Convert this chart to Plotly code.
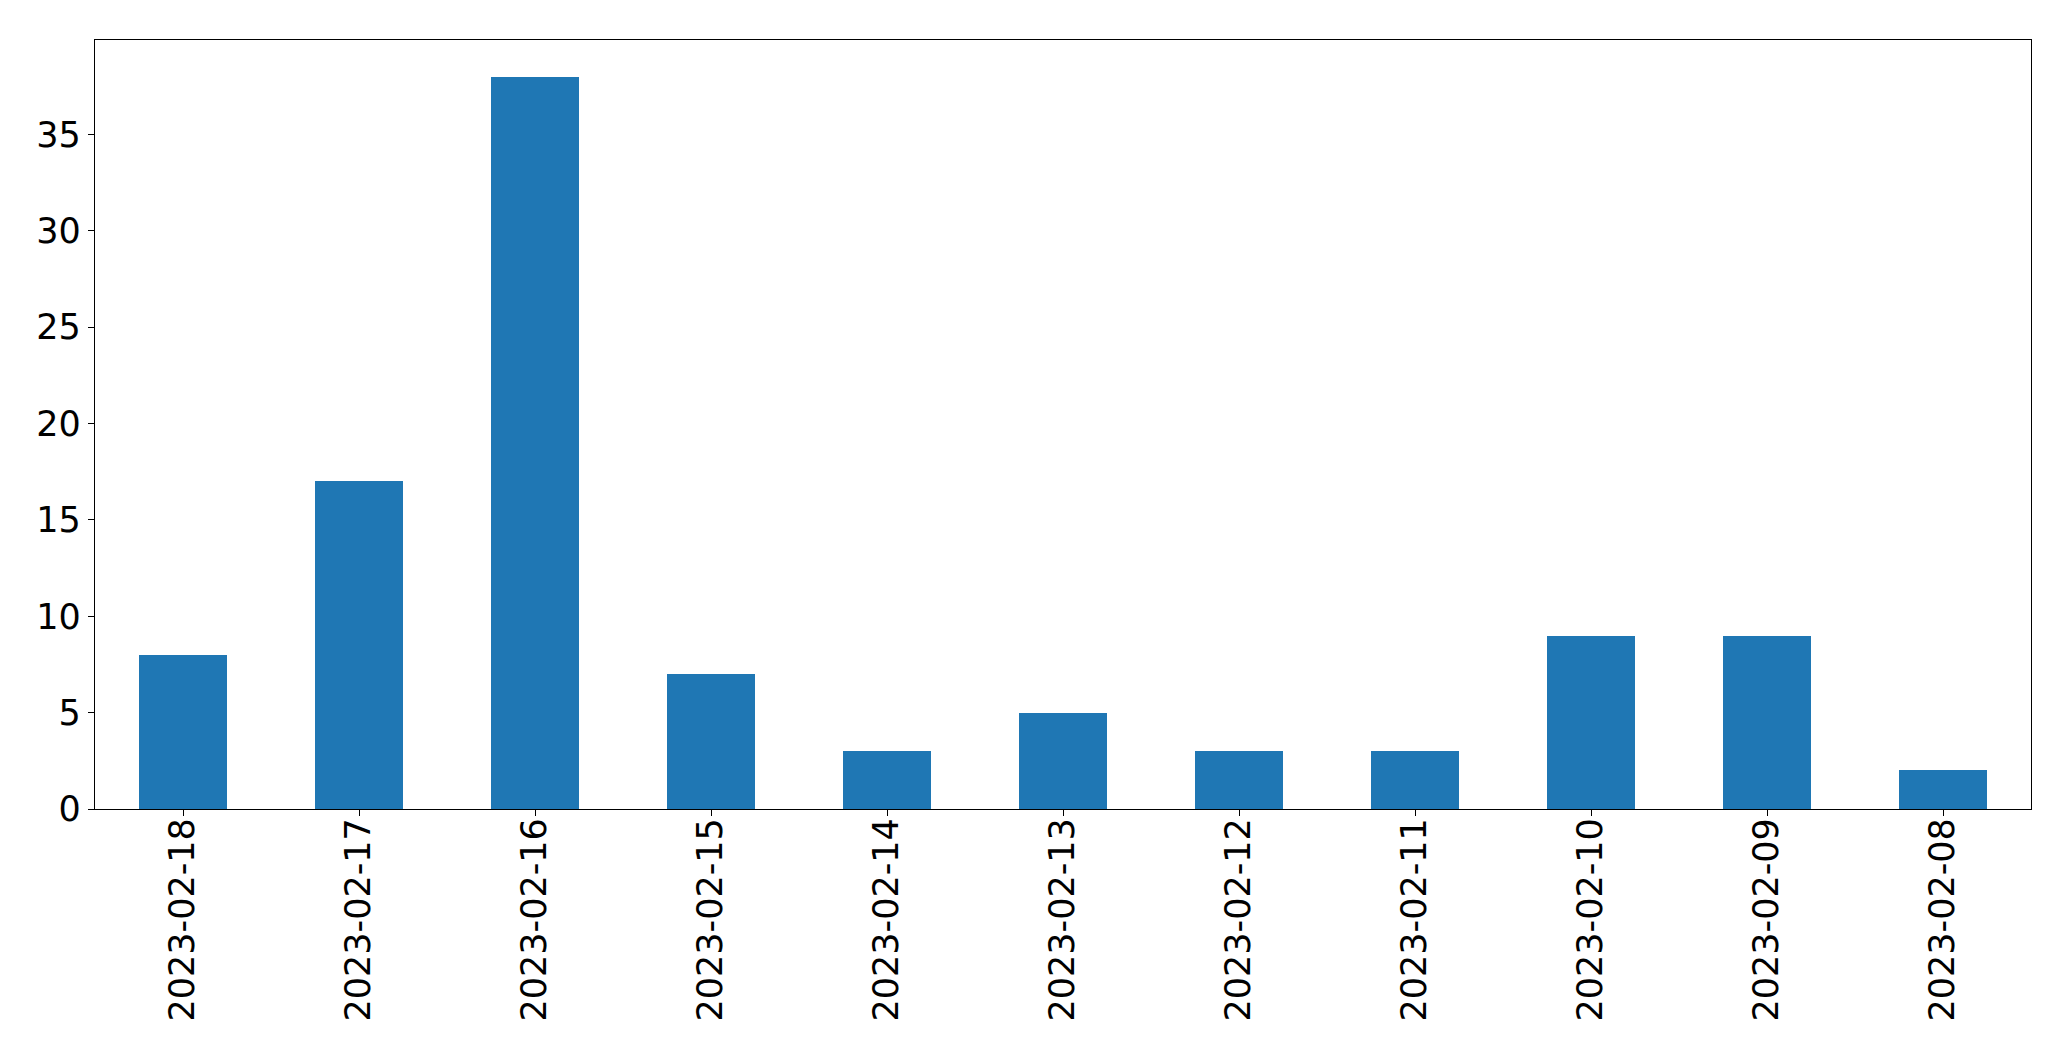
import plotly.graph_objects as go

dates = ["2023-02-18", "2023-02-17", "2023-02-16", "2023-02-15", "2023-02-14",
         "2023-02-13", "2023-02-12", "2023-02-11", "2023-02-10", "2023-02-09", "2023-02-08"]
counts = [8, 17, 38, 7, 3, 5, 3, 3, 9, 9, 2]

fig = go.Figure()
fig.add_trace(go.Bar(x=list(range(len(dates))), y=counts, width=0.5,
                     marker=dict(color="#1f77b4", line=dict(width=0))))

font = dict(family="DejaVu Sans", size=35, color="black")
fig.update_layout(
    width=2055, height=1045,
    margin=dict(l=86.5, r=31.5, t=31.5, b=244, autoexpand=False),
    paper_bgcolor="white", plot_bgcolor="white",
    showlegend=False, font=font, bargap=0,
)
fig.update_xaxes(
    range=[-0.5, len(dates) - 0.5], tickmode="array",
    tickvals=list(range(len(dates))), ticktext=dates, tickangle=-90,
    showline=True, linecolor="black", linewidth=1.3, mirror=True,
    ticks="outside", ticklen=6, tickwidth=1.3, tickcolor="black",
    showgrid=False, zeroline=False, tickfont=font, ticklabelstandoff=-12,
)
fig.update_yaxes(
    range=[0, 39.9], tickmode="array", tickvals=[0, 5, 10, 15, 20, 25, 30, 35],
    showline=True, linecolor="black", linewidth=1.3, mirror=True,
    ticks="outside", ticklen=6, tickwidth=1.3, tickcolor="black",
    showgrid=False, zeroline=False, tickfont=font,
)
fig.write_html("out.html")
